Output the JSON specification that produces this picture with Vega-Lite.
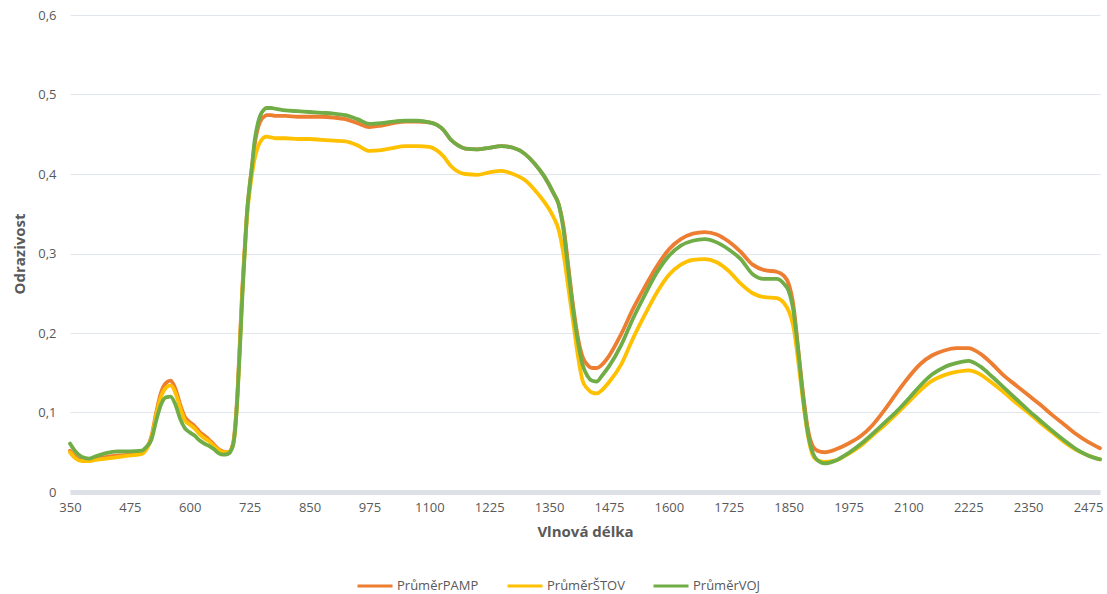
{
  "$schema": "https://vega.github.io/schema/vega-lite/v6.json",
  "width": 1030,
  "height": 477,
  "autosize": {"type": "none"},
  "padding": {"left": 70, "top": 15, "right": 7, "bottom": 102},
  "background": "white",
  "config": {
    "view": {"stroke": null},
    "font": "Open Sans",
    "axis": {"labelColor": "#595959", "titleColor": "#595959", "labelFont": "Open Sans", "titleFont": "Open Sans"}
  },
  "data": {
    "values": [
      {"w":350,"PrůměrPAMP":0.052,"PrůměrŠTOV":0.050,"PrůměrVOJ":0.061},
      {"w":360,"PrůměrPAMP":0.045,"PrůměrŠTOV":0.043,"PrůměrVOJ":0.052},
      {"w":375,"PrůměrPAMP":0.040,"PrůměrŠTOV":0.039,"PrůměrVOJ":0.044},
      {"w":390,"PrůměrPAMP":0.041,"PrůměrŠTOV":0.039,"PrůměrVOJ":0.042},
      {"w":400,"PrůměrPAMP":0.042,"PrůměrŠTOV":0.040,"PrůměrVOJ":0.044},
      {"w":425,"PrůměrPAMP":0.044,"PrůměrŠTOV":0.042,"PrůměrVOJ":0.049},
      {"w":450,"PrůměrPAMP":0.046,"PrůměrŠTOV":0.044,"PrůměrVOJ":0.051},
      {"w":475,"PrůměrPAMP":0.047,"PrůměrŠTOV":0.046,"PrůměrVOJ":0.051},
      {"w":500,"PrůměrPAMP":0.049,"PrůměrŠTOV":0.048,"PrůměrVOJ":0.052},
      {"w":510,"PrůměrPAMP":0.055,"PrůměrŠTOV":0.054,"PrůměrVOJ":0.057},
      {"w":520,"PrůměrPAMP":0.070,"PrůměrŠTOV":0.068,"PrůměrVOJ":0.066},
      {"w":530,"PrůměrPAMP":0.100,"PrůměrŠTOV":0.097,"PrůměrVOJ":0.090},
      {"w":540,"PrůměrPAMP":0.125,"PrůměrŠTOV":0.120,"PrůměrVOJ":0.110},
      {"w":550,"PrůměrPAMP":0.137,"PrůměrŠTOV":0.131,"PrůměrVOJ":0.119},
      {"w":560,"PrůměrPAMP":0.140,"PrůměrŠTOV":0.134,"PrůměrVOJ":0.120},
      {"w":570,"PrůměrPAMP":0.130,"PrůměrŠTOV":0.125,"PrůměrVOJ":0.110},
      {"w":580,"PrůměrPAMP":0.110,"PrůměrŠTOV":0.106,"PrůměrVOJ":0.092},
      {"w":590,"PrůměrPAMP":0.094,"PrůměrŠTOV":0.090,"PrůměrVOJ":0.080},
      {"w":600,"PrůměrPAMP":0.088,"PrůměrŠTOV":0.085,"PrůměrVOJ":0.075},
      {"w":610,"PrůměrPAMP":0.083,"PrůměrŠTOV":0.080,"PrůměrVOJ":0.071},
      {"w":620,"PrůměrPAMP":0.076,"PrůměrŠTOV":0.073,"PrůměrVOJ":0.065},
      {"w":630,"PrůměrPAMP":0.071,"PrůměrŠTOV":0.068,"PrůměrVOJ":0.061},
      {"w":640,"PrůměrPAMP":0.066,"PrůměrŠTOV":0.064,"PrůměrVOJ":0.058},
      {"w":650,"PrůměrPAMP":0.060,"PrůměrŠTOV":0.058,"PrůměrVOJ":0.054},
      {"w":660,"PrůměrPAMP":0.054,"PrůměrŠTOV":0.053,"PrůměrVOJ":0.049},
      {"w":670,"PrůměrPAMP":0.051,"PrůměrŠTOV":0.050,"PrůměrVOJ":0.047},
      {"w":680,"PrůměrPAMP":0.050,"PrůměrŠTOV":0.050,"PrůměrVOJ":0.048},
      {"w":690,"PrůměrPAMP":0.060,"PrůměrŠTOV":0.058,"PrůměrVOJ":0.058},
      {"w":695,"PrůměrPAMP":0.085,"PrůměrŠTOV":0.080,"PrůměrVOJ":0.080},
      {"w":700,"PrůměrPAMP":0.130,"PrůměrŠTOV":0.125,"PrůměrVOJ":0.125},
      {"w":705,"PrůměrPAMP":0.195,"PrůměrŠTOV":0.190,"PrůměrVOJ":0.185},
      {"w":710,"PrůměrPAMP":0.260,"PrůměrŠTOV":0.255,"PrůměrVOJ":0.250},
      {"w":715,"PrůměrPAMP":0.310,"PrůměrŠTOV":0.305,"PrůměrVOJ":0.305},
      {"w":720,"PrůměrPAMP":0.355,"PrůměrŠTOV":0.350,"PrůměrVOJ":0.355},
      {"w":725,"PrůměrPAMP":0.385,"PrůměrŠTOV":0.378,"PrůměrVOJ":0.385},
      {"w":730,"PrůměrPAMP":0.410,"PrůměrŠTOV":0.400,"PrůměrVOJ":0.410},
      {"w":735,"PrůměrPAMP":0.435,"PrůměrŠTOV":0.418,"PrůměrVOJ":0.440},
      {"w":740,"PrůměrPAMP":0.452,"PrůměrŠTOV":0.430,"PrůměrVOJ":0.458},
      {"w":745,"PrůměrPAMP":0.463,"PrůměrŠTOV":0.438,"PrůměrVOJ":0.470},
      {"w":750,"PrůměrPAMP":0.469,"PrůměrŠTOV":0.443,"PrůměrVOJ":0.477},
      {"w":755,"PrůměrPAMP":0.472,"PrůměrŠTOV":0.446,"PrůměrVOJ":0.481},
      {"w":760,"PrůměrPAMP":0.474,"PrůměrŠTOV":0.447,"PrůměrVOJ":0.483},
      {"w":770,"PrůměrPAMP":0.474,"PrůměrŠTOV":0.446,"PrůměrVOJ":0.483},
      {"w":780,"PrůměrPAMP":0.473,"PrůměrŠTOV":0.445,"PrůměrVOJ":0.482},
      {"w":800,"PrůměrPAMP":0.473,"PrůměrŠTOV":0.445,"PrůměrVOJ":0.480},
      {"w":825,"PrůměrPAMP":0.472,"PrůměrŠTOV":0.444,"PrůměrVOJ":0.479},
      {"w":850,"PrůměrPAMP":0.472,"PrůměrŠTOV":0.444,"PrůměrVOJ":0.478},
      {"w":875,"PrůměrPAMP":0.472,"PrůměrŠTOV":0.443,"PrůměrVOJ":0.477},
      {"w":900,"PrůměrPAMP":0.471,"PrůměrŠTOV":0.442,"PrůměrVOJ":0.476},
      {"w":925,"PrůměrPAMP":0.469,"PrůměrŠTOV":0.441,"PrůměrVOJ":0.474},
      {"w":950,"PrůměrPAMP":0.464,"PrůměrŠTOV":0.436,"PrůměrVOJ":0.469},
      {"w":975,"PrůměrPAMP":0.459,"PrůměrŠTOV":0.429,"PrůměrVOJ":0.463},
      {"w":1000,"PrůměrPAMP":0.461,"PrůměrŠTOV":0.430,"PrůměrVOJ":0.464},
      {"w":1025,"PrůměrPAMP":0.464,"PrůměrŠTOV":0.433,"PrůměrVOJ":0.466},
      {"w":1050,"PrůměrPAMP":0.466,"PrůměrŠTOV":0.435,"PrůměrVOJ":0.467},
      {"w":1075,"PrůměrPAMP":0.466,"PrůměrŠTOV":0.435,"PrůměrVOJ":0.467},
      {"w":1100,"PrůměrPAMP":0.465,"PrůměrŠTOV":0.434,"PrůměrVOJ":0.465},
      {"w":1115,"PrůměrPAMP":0.462,"PrůměrŠTOV":0.430,"PrůměrVOJ":0.462},
      {"w":1130,"PrůměrPAMP":0.455,"PrůměrŠTOV":0.422,"PrůměrVOJ":0.455},
      {"w":1145,"PrůměrPAMP":0.443,"PrůměrŠTOV":0.410,"PrůměrVOJ":0.443},
      {"w":1160,"PrůměrPAMP":0.436,"PrůměrŠTOV":0.403,"PrůměrVOJ":0.436},
      {"w":1175,"PrůměrPAMP":0.432,"PrůměrŠTOV":0.400,"PrůměrVOJ":0.432},
      {"w":1200,"PrůměrPAMP":0.431,"PrůměrŠTOV":0.399,"PrůměrVOJ":0.431},
      {"w":1225,"PrůměrPAMP":0.433,"PrůměrŠTOV":0.402,"PrůměrVOJ":0.433},
      {"w":1250,"PrůměrPAMP":0.435,"PrůměrŠTOV":0.404,"PrůměrVOJ":0.435},
      {"w":1275,"PrůměrPAMP":0.433,"PrůměrŠTOV":0.400,"PrůměrVOJ":0.433},
      {"w":1300,"PrůměrPAMP":0.425,"PrůměrŠTOV":0.392,"PrůměrVOJ":0.425},
      {"w":1320,"PrůměrPAMP":0.413,"PrůměrŠTOV":0.380,"PrůměrVOJ":0.413},
      {"w":1340,"PrůměrPAMP":0.397,"PrůměrŠTOV":0.365,"PrůměrVOJ":0.397},
      {"w":1360,"PrůměrPAMP":0.375,"PrůměrŠTOV":0.345,"PrůměrVOJ":0.375},
      {"w":1370,"PrůměrPAMP":0.362,"PrůměrŠTOV":0.330,"PrůměrVOJ":0.362},
      {"w":1380,"PrůměrPAMP":0.335,"PrůměrŠTOV":0.300,"PrůměrVOJ":0.330},
      {"w":1390,"PrůměrPAMP":0.285,"PrůměrŠTOV":0.258,"PrůměrVOJ":0.280},
      {"w":1400,"PrůměrPAMP":0.235,"PrůměrŠTOV":0.215,"PrůměrVOJ":0.230},
      {"w":1410,"PrůměrPAMP":0.195,"PrůměrŠTOV":0.172,"PrůměrVOJ":0.190},
      {"w":1420,"PrůměrPAMP":0.170,"PrůměrŠTOV":0.140,"PrůměrVOJ":0.160},
      {"w":1430,"PrůměrPAMP":0.160,"PrůměrŠTOV":0.130,"PrůměrVOJ":0.146},
      {"w":1440,"PrůměrPAMP":0.156,"PrůměrŠTOV":0.125,"PrůměrVOJ":0.140},
      {"w":1450,"PrůměrPAMP":0.156,"PrůměrŠTOV":0.124,"PrůměrVOJ":0.139},
      {"w":1460,"PrůměrPAMP":0.160,"PrůměrŠTOV":0.128,"PrůměrVOJ":0.146},
      {"w":1475,"PrůměrPAMP":0.171,"PrůměrŠTOV":0.138,"PrůměrVOJ":0.158},
      {"w":1500,"PrůměrPAMP":0.198,"PrůměrŠTOV":0.160,"PrůměrVOJ":0.184},
      {"w":1525,"PrůměrPAMP":0.230,"PrůměrŠTOV":0.193,"PrůměrVOJ":0.218},
      {"w":1550,"PrůměrPAMP":0.258,"PrůměrŠTOV":0.223,"PrůměrVOJ":0.248},
      {"w":1575,"PrůměrPAMP":0.284,"PrůměrŠTOV":0.251,"PrůměrVOJ":0.276},
      {"w":1600,"PrůměrPAMP":0.305,"PrůměrŠTOV":0.273,"PrůměrVOJ":0.297},
      {"w":1625,"PrůměrPAMP":0.318,"PrůměrŠTOV":0.286,"PrůměrVOJ":0.310},
      {"w":1650,"PrůměrPAMP":0.325,"PrůměrŠTOV":0.292,"PrůměrVOJ":0.316},
      {"w":1675,"PrůměrPAMP":0.327,"PrůměrŠTOV":0.293,"PrůměrVOJ":0.318},
      {"w":1700,"PrůměrPAMP":0.324,"PrůměrŠTOV":0.289,"PrůměrVOJ":0.314},
      {"w":1725,"PrůměrPAMP":0.315,"PrůměrŠTOV":0.278,"PrůměrVOJ":0.305},
      {"w":1750,"PrůměrPAMP":0.302,"PrůměrŠTOV":0.262,"PrůměrVOJ":0.293},
      {"w":1775,"PrůměrPAMP":0.286,"PrůměrŠTOV":0.250,"PrůměrVOJ":0.274},
      {"w":1800,"PrůměrPAMP":0.279,"PrůměrŠTOV":0.245,"PrůměrVOJ":0.268},
      {"w":1825,"PrůměrPAMP":0.277,"PrůměrŠTOV":0.244,"PrůměrVOJ":0.268},
      {"w":1840,"PrůměrPAMP":0.272,"PrůměrŠTOV":0.238,"PrůměrVOJ":0.262},
      {"w":1850,"PrůměrPAMP":0.262,"PrůměrŠTOV":0.228,"PrůměrVOJ":0.253},
      {"w":1860,"PrůměrPAMP":0.235,"PrůměrŠTOV":0.208,"PrůměrVOJ":0.228},
      {"w":1870,"PrůměrPAMP":0.180,"PrůměrŠTOV":0.165,"PrůměrVOJ":0.178},
      {"w":1880,"PrůměrPAMP":0.125,"PrůměrŠTOV":0.115,"PrůměrVOJ":0.120},
      {"w":1890,"PrůměrPAMP":0.080,"PrůměrŠTOV":0.072,"PrůměrVOJ":0.075},
      {"w":1900,"PrůměrPAMP":0.058,"PrůměrŠTOV":0.047,"PrůměrVOJ":0.050},
      {"w":1910,"PrůměrPAMP":0.052,"PrůměrŠTOV":0.040,"PrůměrVOJ":0.040},
      {"w":1925,"PrůměrPAMP":0.050,"PrůměrŠTOV":0.038,"PrůměrVOJ":0.036},
      {"w":1950,"PrůměrPAMP":0.054,"PrůměrŠTOV":0.040,"PrůměrVOJ":0.040},
      {"w":1975,"PrůměrPAMP":0.061,"PrůměrŠTOV":0.048,"PrůměrVOJ":0.049},
      {"w":2000,"PrůměrPAMP":0.070,"PrůměrŠTOV":0.058,"PrůměrVOJ":0.060},
      {"w":2025,"PrůměrPAMP":0.084,"PrůměrŠTOV":0.071,"PrůměrVOJ":0.073},
      {"w":2050,"PrůměrPAMP":0.103,"PrůměrŠTOV":0.084,"PrůměrVOJ":0.087},
      {"w":2075,"PrůměrPAMP":0.124,"PrůměrŠTOV":0.098,"PrůměrVOJ":0.101},
      {"w":2100,"PrůměrPAMP":0.144,"PrůměrŠTOV":0.113,"PrůměrVOJ":0.117},
      {"w":2125,"PrůměrPAMP":0.161,"PrůměrŠTOV":0.128,"PrůměrVOJ":0.134},
      {"w":2150,"PrůměrPAMP":0.172,"PrůměrŠTOV":0.140,"PrůměrVOJ":0.148},
      {"w":2175,"PrůměrPAMP":0.178,"PrůměrŠTOV":0.147,"PrůměrVOJ":0.157},
      {"w":2200,"PrůměrPAMP":0.181,"PrůměrŠTOV":0.151,"PrůměrVOJ":0.162},
      {"w":2225,"PrůměrPAMP":0.181,"PrůměrŠTOV":0.153,"PrůměrVOJ":0.165},
      {"w":2250,"PrůměrPAMP":0.174,"PrůměrŠTOV":0.148,"PrůměrVOJ":0.158},
      {"w":2275,"PrůměrPAMP":0.161,"PrůměrŠTOV":0.137,"PrůměrVOJ":0.145},
      {"w":2300,"PrůměrPAMP":0.146,"PrůměrŠTOV":0.125,"PrůměrVOJ":0.131},
      {"w":2325,"PrůměrPAMP":0.134,"PrůměrŠTOV":0.112,"PrůměrVOJ":0.117},
      {"w":2350,"PrůměrPAMP":0.122,"PrůměrŠTOV":0.100,"PrůměrVOJ":0.103},
      {"w":2375,"PrůměrPAMP":0.110,"PrůměrŠTOV":0.087,"PrůměrVOJ":0.090},
      {"w":2400,"PrůměrPAMP":0.097,"PrůměrŠTOV":0.075,"PrůměrVOJ":0.077},
      {"w":2425,"PrůměrPAMP":0.085,"PrůměrŠTOV":0.063,"PrůměrVOJ":0.065},
      {"w":2450,"PrůměrPAMP":0.073,"PrůměrŠTOV":0.053,"PrůměrVOJ":0.054},
      {"w":2475,"PrůměrPAMP":0.063,"PrůměrŠTOV":0.046,"PrůměrVOJ":0.046},
      {"w":2500,"PrůměrPAMP":0.055,"PrůměrŠTOV":0.041,"PrůměrVOJ":0.041}
    ]
  },
  "transform": [
    {"fold": ["PrůměrPAMP", "PrůměrŠTOV", "PrůměrVOJ"], "as": ["serie", "r"]}
  ],
  "mark": {"type": "line", "strokeWidth": 3.8, "interpolate": "monotone", "strokeCap": "round", "strokeJoin": "round"},
  "encoding": {
    "x": {
      "field": "w", "type": "quantitative",
      "scale": {"domain": [350, 2500], "nice": false, "zero": false},
      "axis": {
        "title": "Vlnová délka",
        "titleFontSize": 15, "titleFontWeight": "bold", "titlePadding": 10,
        "values": [350,475,600,725,850,975,1100,1225,1350,1475,1600,1725,1850,1975,2100,2225,2350,2475],
        "format": "d",
        "labelFontSize": 13, "labelPadding": 9, "ticks": false, "grid": false,
        "domainColor": "#dde1e7", "domainWidth": 5, "labelFlush": false, "labelOverlap": false
      }
    },
    "y": {
      "field": "r", "type": "quantitative",
      "scale": {"domain": [0, 0.6], "nice": false},
      "axis": {
        "title": "Odrazivost",
        "titleFontSize": 15, "titleFontWeight": "bold", "titlePadding": 10,
        "values": [0, 0.1, 0.2, 0.3, 0.4, 0.5, 0.6],
        "labelExpr": "datum.value == 0 ? '0' : replace(format(datum.value, '.1f'), '.', ',')",
        "labelFontSize": 13, "labelPadding": 14, "ticks": false, "domain": false,
        "gridColor": "#e1e5ec", "gridWidth": 1, "labelFlush": false
      }
    },
    "color": {
      "field": "serie", "type": "nominal",
      "scale": {"domain": ["PrůměrPAMP", "PrůměrŠTOV", "PrůměrVOJ"], "range": ["#ED7D31", "#FFC000", "#70AD47"]},
      "legend": {
        "title": null, "orient": "none", "direction": "horizontal",
        "legendX": 286, "legendY": 552,
        "symbolType": "stroke", "symbolSize": 1225, "symbolStrokeWidth": 3,
        "labelFontSize": 13, "labelColor": "#595959", "labelOffset": 3,
        "columnPadding": 22
      }
    }
  }
}
